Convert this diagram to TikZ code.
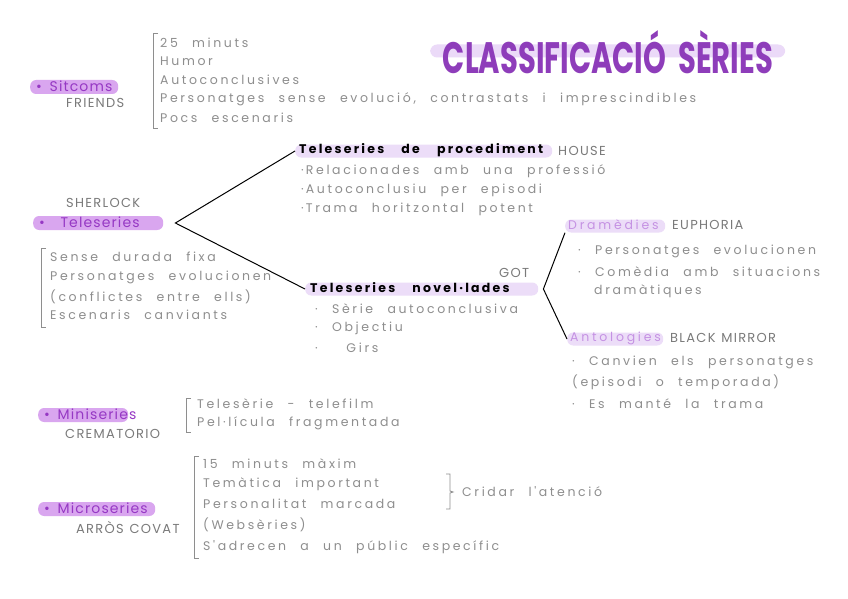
\documentclass[tikz,border=0pt]{standalone}
\usepackage{fontspec}
\setmainfont{Poppins}
\newfontfamily\hand[LetterSpace=21,WordSpace=2.4]{Poppins}
\newfontfamily\subf[LetterSpace=18,WordSpace=3.5]{Poppins}
\newfontfamily\headf[LetterSpace=8,WordSpace=1.6]{Poppins}
\newfontfamily\subl[LetterSpace=22,WordSpace=1.5]{Poppins}
\newfontfamily\capsf[LetterSpace=10,WordSpace=1.2]{Poppins}
\definecolor{graytxt}{HTML}{8E8E8E}
\definecolor{graycap}{HTML}{7A7A7A}
\definecolor{purp}{HTML}{9638C4}
\definecolor{hlmain}{HTML}{D9A6EF}
\definecolor{hlsub}{HTML}{ECDDF8}
\definecolor{lpurp}{HTML}{C592E3}
\definecolor{titlec}{HTML}{8E3DBA}
\definecolor{titlehl}{HTML}{EBDAF8}
\begin{document}
\begin{tikzpicture}[x=1pt,y=-1pt,
  body/.style={anchor=west, inner sep=0, text=graytxt, font=\hand\fontsize{12.5}{14}\selectfont},
  lbl/.style={anchor=west, inner sep=0, text=graycap, font=\capsf\fontsize{13}{14}\selectfont},
  mainhl/.style={fill=hlmain, rounded corners=6pt, minimum height=14pt, inner sep=0, anchor=west},
  mainhd/.style={anchor=west, inner sep=0, text=purp, font=\headf\fontsize{14}{16}\selectfont},
  subhl/.style={fill=hlsub, rounded corners=6pt, minimum height=13pt, inner sep=0, anchor=west},
  subhd/.style={anchor=west, inner sep=0, text=black, font=\subf\fontsize{12.5}{14}\selectfont\bfseries},
  subhdl/.style={anchor=west, inner sep=0, text=lpurp, font=\subl\fontsize{12.5}{14}\selectfont},
  brk/.style={draw=graytxt, line width=0.8pt},
  conn/.style={draw=black, line width=1pt}]
\useasboundingbox[fill=white] (0,0) rectangle (848,599);

% Title
\node[fill=titlehl, rounded corners=7pt, minimum width=355pt, minimum height=13pt, inner sep=0, anchor=west] (titlehl) at (430,51) {};
\node[anchor=center, inner sep=0, text=titlec] (title) at (608,52) {\scalebox{0.66}[1]{\fontsize{44}{46}\selectfont\bfseries CLASSIFICACIÓ\ \ SÈRIES}};

% Sitcoms
\node[mainhl, minimum width=88pt] (sithl) at (30,87) {};
\node[mainhd] (sit) at (36,86) {•\ Sitcoms};
\node[lbl] (friends) at (66,103) {FRIENDS};
\draw[brk] (158,33) -- (153,33) -- (153,128) -- (158,128);
\node[body] (s1) at (160,43) {25 minuts};
\node[body] (s2) at (160,61) {Humor};
\node[body] (s3) at (160,80) {Autoconclusives};
\node[body] (s4) at (160,99) {Personatges sense evolució, contrastats i imprescindibles};
\node[body] (s5) at (160,118) {Pocs escenaris};

% Teleseries
\node[lbl] (sherlock) at (66,203) {SHERLOCK};
\node[mainhl, minimum width=130pt] (telhl) at (33,223) {};
\node[mainhd] (tel) at (39,222) {•\ \ Teleseries};
\draw[brk] (46,248) -- (41,248) -- (41,327) -- (46,327);
\node[body] (t1) at (50,257) {Sense durada fixa};
\node[body] (t2) at (50,277) {Personatges evolucionen};
\node[body] (t3) at (50,297) {(conflictes entre ells)};
\node[body] (t4) at (50,315) {Escenaris canviants};

% Teleseries de procediment
\node[subhl, minimum width=257pt] (prochl) at (295,151) {};
\node[subhd] (proc) at (299,150) {Teleseries de procediment};
\node[lbl] (house) at (558,151) {HOUSE};
\node[body] (p1) at (301,171) {·\,Relacionades amb una professió};
\node[body] (p2) at (301,190) {·\,Autoconclusiu per episodi};
\node[body] (p3) at (301,209) {·\,Trama horitzontal potent};

% Teleseries novel·lades
\node[lbl] (got) at (499,273) {GOT};
\node[subhl, minimum width=233pt] (novhl) at (305,289) {};
\node[subhd] (nov) at (310,288) {Teleseries novel·lades};
\node[body] (n1) at (315,309) {·\ Sèrie autoconclusiva};
\node[body] (n2) at (315,328) {·\ Objectiu};
\node[body] (n3) at (315,348) {·\ \ Girs};

% Dramedies
\node[subhl, minimum width=100pt] (drahl) at (565,226) {};
\node[subhdl] (dra) at (568,225) {Dramèdies};
\node[lbl] (euph) at (672,225) {EUPHORIA};
\node[body] (d1) at (578,251) {·\ Personatges evolucionen};
\node[body] (d2) at (578,272) {·\ Comèdia amb situacions};
\node[body] (d3) at (594,291) {dramàtiques};

% Antologies
\node[subhl, minimum width=96pt] (anthl) at (567,339) {};
\node[subhdl] (ant) at (570,338) {Antologies};
\node[lbl] (bm) at (670,338) {BLACK MIRROR};
\node[body] (a1) at (572,362) {·\ Canvien els personatges};
\node[body] (a2) at (572,382) {(episodi o temporada)};
\node[body] (a3) at (572,404) {·\ Es manté la trama};

% Miniseries
\node[mainhl, minimum width=90pt] (minihl) at (38,415) {};
\node[mainhd] (mini) at (44,414) {•\ Miniseries};
\node[lbl] (crem) at (65,434) {CREMATORIO};
\draw[brk] (191,398) -- (186,398) -- (186,432) -- (191,432);
\node[body] (m1) at (197,404) {Telesèrie - telefilm};
\node[body] (m2) at (197,423) {Pel·lícula fragmentada};

% Microseries
\node[mainhl, minimum width=117pt] (microhl) at (38,509) {};
\node[mainhd] (micro) at (44,508) {•\ Microseries};
\node[lbl] (arros) at (76,528) {ARRÒS COVAT};
\draw[brk] (199,456) -- (194,456) -- (194,558) -- (199,558);
\node[body] (c1) at (203,464) {15 minuts màxim};
\node[body] (c2) at (203,484) {Temàtica important};
\node[body] (c3) at (203,504) {Personalitat marcada};
\node[body] (c4) at (203,525) {(Websèries)};
\node[body] (c5) at (203,547) {S'adrecen a un públic específic};
\draw[brk] (446,474) -- (450,474) -- (450,491) -- (453,492) -- (450,493) -- (450,509) -- (446,509);
\node[body] (crid) at (462,492) {Cridar l'atenció};

% Connectors
\coordinate (v1) at ([xshift=12pt]telhl.east);
\draw[conn] (prochl.west) -- (v1) -- (novhl.west);
\coordinate (v2) at ([xshift=5pt]novhl.east);
\draw[conn] (drahl.south west) -- (v2) -- (anthl.west);
\end{tikzpicture}
\end{document}
